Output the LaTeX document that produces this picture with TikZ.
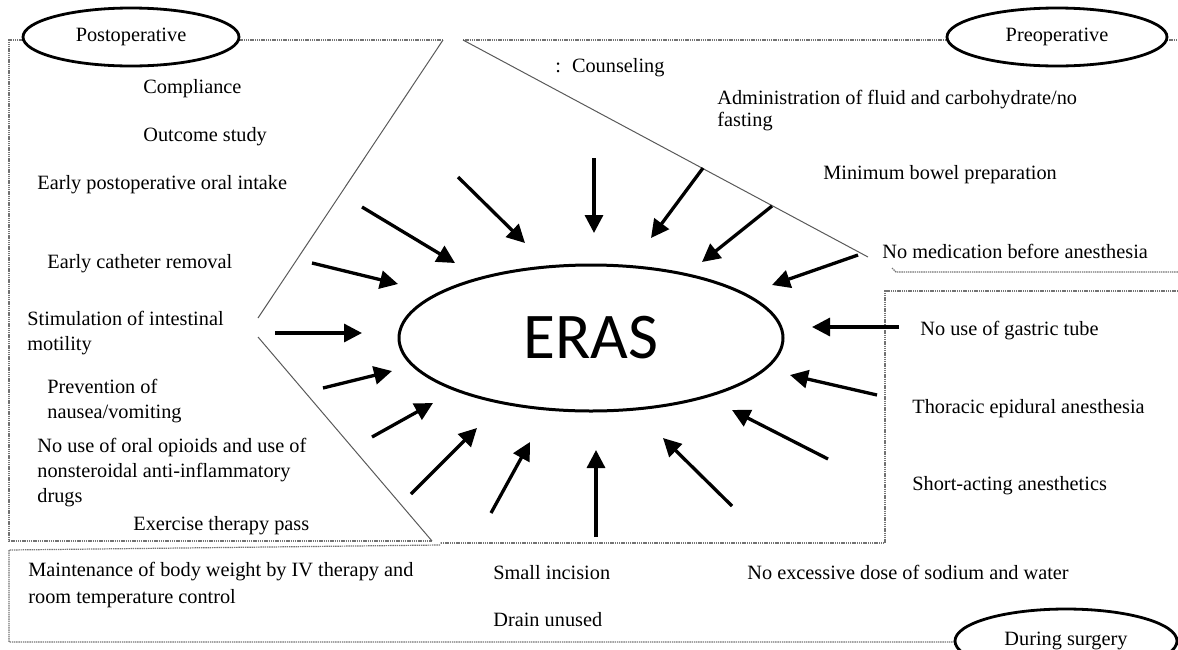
\documentclass[tikz,border=0pt]{standalone}
\usepackage{fontspec}
\setmainfont{Liberation Serif}
\newfontfamily\erasfont{Carlito}
\usetikzlibrary{arrows.meta,shapes.geometric}
\begin{document}
\begin{tikzpicture}[x=0.5pt,y=-0.5pt,
  txt/.style={anchor=base west,inner sep=0pt,align=left,font=\fontsize{10.15}{12.5}\selectfont},
  lab/.style={draw,line width=1.4pt,ellipse,inner sep=0pt,fill=white,font=\fontsize{10.15}{12.5}\selectfont},
  frame/.style={line width=0.6pt,draw=black!55,dash pattern=on 0.7pt off 0.4pt},
  diag/.style={line width=0.5pt,draw=black!65},
  arr/.style={line width=1.65pt,-{Triangle[length=9pt,width=9pt]}},
]
\useasboundingbox (0,0) rectangle (1178,649);
\clip (0,0) rectangle (1178,649);

% region frames
\draw[frame] (443,40) -- (9,40) -- (9,541) -- (432,541);
\draw[diag] (443,40) -- (258,318);
\draw[diag] (258,337) -- (432,541);
\draw[frame] (463,40) -- (1178,40);
\draw[diag] (463,40) -- (868,257);
\draw[frame] (892,268) -- (896,272) -- (1178,272);
\draw[frame] (1178,291) -- (885,291) -- (885,543) -- (440,543);
\draw[frame] (440,545) -- (9,550) -- (9,642) -- (1000,642);

% phase labels
\node[lab,minimum width=108pt,minimum height=29pt] (post) at (131,37) {Postoperative};
\node[lab,minimum width=110pt,minimum height=29pt] (pre) at (1057,37) {Preoperative};
\node[lab,minimum width=111pt,minimum height=32pt] (dur) at (1066,641) {During surgery};

% centre
\node[draw,ellipse,line width=1.5pt,inner sep=0pt,minimum width=192pt,minimum height=73pt,
      font=\erasfont\fontsize{32.6}{36}\selectfont] (eras) at (591,338) {ERAS};

% postoperative items (base = baseline of last line)
\node[txt] (p1) at (143,93) {Compliance};
\node[txt] (p2) at (143,141) {Outcome study};
\node[txt] (p3) at (37,189) {Early postoperative oral intake};
\node[txt] (p4) at (47,268) {Early catheter removal};
\node[txt] (p5) at (27,350) {Stimulation of intestinal\\motility};
\node[txt] (p6) at (47,418) {Prevention of\\nausea/vomiting};
\node[txt] (p7) at (37,502) {No use of oral opioids and use of\\nonsteroidal anti-inflammatory\\drugs};
\node[txt] (p8) at (133,530) {Exercise therapy pass};

% preoperative items
\node[txt] (q1) at (555,72) {:\hspace{5.5pt}Counseling};
\node[txt,font=\fontsize{10.15}{11}\selectfont] (q2) at (717,126) {Administration of fluid and carbohydrate/no\\fasting};
\node[txt] (q3) at (823,179) {Minimum bowel preparation};
\node[txt] (q4) at (882,258) {No medication before anesthesia};

% intraoperative items
\node[txt] (s1) at (920,335) {No use of gastric tube};
\node[txt] (s2) at (912,413) {Thoracic epidural anesthesia};
\node[txt] (s3) at (912,490) {Short-acting anesthetics};
\node[txt,font=\fontsize{10.15}{13.5}\selectfont] (s4) at (28,603) {Maintenance of body weight by IV therapy and\\room temperature control};
\node[txt] (s5) at (493,579) {Small incision};
\node[txt] (s6) at (493,626) {Drain unused};
\node[txt] (s7) at (747,579) {No excessive dose of sodium and water};

% arrows
\foreach \i/\tx/\ty/\hx/\hy in {
  1/362/207/455/263, 2/458/177/525/243, 3/594/158/594/233, 4/703/168/651/238,
  5/772/206/702/262, 6/858/255/772/285, 7/899/327/812/327, 8/877/395/790/375,
  9/828/459/732/410, 10/732/506/663/438, 11/596/537/596/450, 12/491/513/530/442,
  13/411/494/477/428, 14/372/437/433/403, 15/323/388/392/371, 16/275/333/362/333,
  17/312/263/398/284}{
  \coordinate (t\i) at (\tx,\ty);
  \coordinate (h\i) at (\hx,\hy);
  \draw[arr] (t\i) -- (h\i);
}
\end{tikzpicture}
\end{document}
